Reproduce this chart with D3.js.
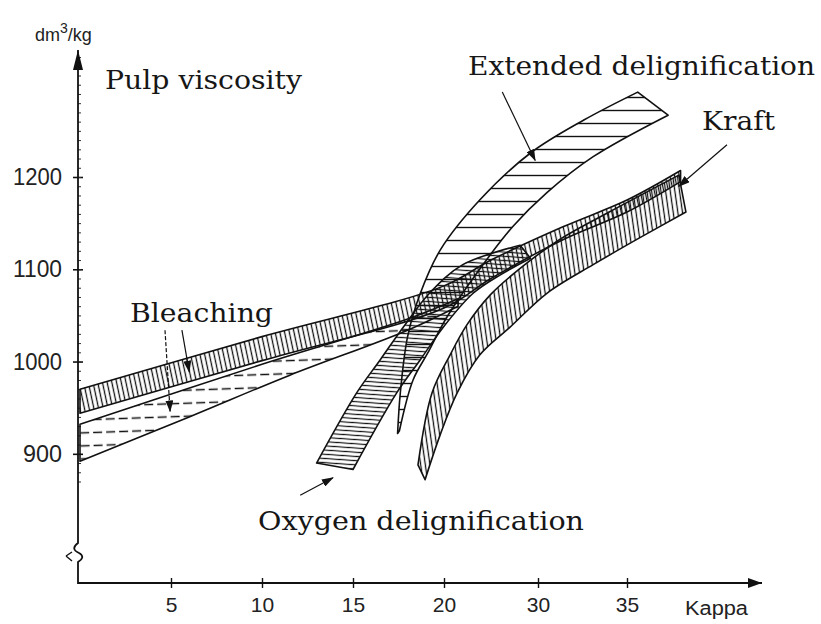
<!DOCTYPE html>
<html>
<head>
<meta charset="utf-8">
<script src="https://cdn.jsdelivr.net/npm/d3@7"></script>
<style>
  body { margin: 0; background: #fff; }
  svg { display: block; }
  .tick text { font-family: 'Liberation Sans', Arial, sans-serif; fill: #222; }
  .label { font-family: 'DejaVu Serif', serif; fill: #161616; }
</style>
</head>
<body>
<svg id="chart" width="821" height="624"></svg>
<script>
const kappaTicks = [5, 10, 15, 20, 30, 35];
const viscosityTicks = [900, 1000, 1100, 1200];

// band edges, [kappa, viscosity dm3/kg]
const bleachLowerTop = [[0, 932], [10, 997], [18, 1046], [21.5, 1068]];
const bleachLowerBottom = [[0, 892], [6, 940], [11.5, 985], [18, 1034], [21.5, 1060]];
const bleachUpperTop = [[0, 970], [10, 1027], [20, 1082], [25, 1110], [31.4, 1146], [35, 1175], [38, 1207]];
const bleachUpperBottom = [[0, 944], [10, 1001], [20, 1058], [25, 1090], [31.4, 1132], [35, 1162], [38, 1195]];
const kraftUpper = [[18.57, 888], [19.34, 966], [20.64, 1007], [22.45, 1040], [24.9, 1072], [28.1, 1101], [31.2, 1132], [34.0, 1162], [37.9, 1202]];
const kraftLower = [[18.96, 872], [19.78, 920], [21.4, 966], [23.8, 1007], [27.0, 1037], [30.5, 1074], [33.1, 1105], [35.7, 1134], [38.3, 1162]];
const oxygenUpper = [[13.0, 890], [15.2, 966], [16.5, 1002], [17.75, 1037], [19.2, 1074], [22.0, 1105], [28.1, 1126]];
const oxygenLower = [[15.0, 883], [17.4, 966], [18.7, 1002], [19.95, 1037], [23.1, 1074], [26.0, 1094], [29.2, 1112]];
const extendedUpper = [[17.45, 922], [17.6, 966], [18.0, 1027], [18.7, 1074], [19.8, 1121], [23.8, 1175], [29.2, 1226], [32.6, 1262], [35.6, 1292]];
const extendedLower = [[17.55, 925], [18.3, 980], [19.1, 1009], [20.3, 1048], [23.5, 1096], [27.3, 1146], [30.5, 1183], [33.1, 1222], [37.3, 1267]];

// pointer arrows [tail, head] in data units
const pointers = [
  [[26.2, 1292], [29.7, 1218]],
  [[40.6, 1235], [37.9, 1190]],
  [[12.1, 855], [13.9, 874]],
  [[4.67, 1034], [4.95, 946]],
  [[5.6, 1034], [6.0, 989]]
];

const svg = d3.select('#chart');

const x = d3.scaleLinear().domain([0, 20, 30, 35, 42]).range([80, 444, 538, 627, 752]);
const y = d3.scaleLinear().domain([760, 1200]).range([583, 177]);

const defs = svg.append('defs');

const hatch = (id, step, angle, dir, width, dash) => {
  const p = defs.append('pattern')
    .attr('id', id)
    .attr('patternUnits', 'userSpaceOnUse')
    .attr('width', step)
    .attr('height', step)
    .attr('patternTransform', `rotate(${angle})`);
  p.append('line')
    .attr('x1', dir === 'v' ? step / 2 : 0)
    .attr('x2', dir === 'v' ? step / 2 : step)
    .attr('y1', dir === 'v' ? 0 : step / 2)
    .attr('y2', dir === 'v' ? step : step / 2)
    .attr('stroke', '#111')
    .attr('stroke-width', width)
    .attr('stroke-dasharray', dash || null);
};

hatch('h-bleach-low', 13, -2, 'h', 1.5, '9 4');
hatch('h-bleach-up', 4.6, -12, 'v', 1.3);
hatch('h-kraft', 4.6, -8, 'v', 1.3);
hatch('h-oxygen', 4.2, 4, 'h', 1.2);
hatch('h-extended', 13, 0, 'h', 1.4);

defs.append('marker')
  .attr('id', 'arrow')
  .attr('viewBox', '0 0 12 8')
  .attr('refX', 11)
  .attr('refY', 4)
  .attr('markerWidth', 12)
  .attr('markerHeight', 8)
  .attr('markerUnits', 'userSpaceOnUse')
  .attr('orient', 'auto')
  .append('path')
  .attr('d', 'M0,0L12,4L0,8Z')
  .attr('fill', '#111');

// axes
const yAxis = d3.axisLeft(y)
  .tickValues(viscosityTicks)
  .tickFormat(d3.format('d'))
  .tickSize(5)
  .tickPadding(11);

const gy = svg.append('g')
  .attr('transform', 'translate(78,0)')
  .call(yAxis);
gy.select('.domain').remove();
gy.selectAll('.tick line').attr('x1', -5).attr('x2', 5).attr('stroke', '#111').attr('stroke-width', 1.6);
gy.selectAll('.tick text')
  .attr('font-size', 24)
  .attr('textLength', (d) => d >= 1000 ? 49 : 39)
  .attr('lengthAdjust', 'spacingAndGlyphs');

const gyMinor = svg.append('g')
  .attr('transform', 'translate(78,0)')
  .call(d3.axisLeft(y).tickValues(d3.range(870, 1340, 10)).tickSize(3).tickFormat(''));
gyMinor.select('.domain').remove();
gyMinor.selectAll('.tick line').attr('x2', 3).attr('stroke', '#333').attr('stroke-width', 1);

const xAxis = d3.axisBottom(x)
  .tickValues(kappaTicks)
  .tickSize(5)
  .tickPadding(9);

const gx = svg.append('g')
  .attr('transform', 'translate(0,583)')
  .call(xAxis);
gx.select('.domain').remove();
gx.selectAll('.tick line').attr('y1', -5).attr('y2', 5).attr('stroke', '#111').attr('stroke-width', 1.4);
gx.selectAll('.tick text').attr('font-size', 21);

svg.append('path')
  .attr('d', 'M78,50L78,543Q70,549 79,553Q86,557 78,562L78,583L762,583')
  .attr('fill', 'none')
  .attr('stroke', '#111')
  .attr('stroke-width', 1.8);

svg.append('path')
  .attr('d', 'M66,556L72,552M66,556L72,561')
  .attr('stroke', '#111')
  .attr('stroke-width', 1.4);

svg.append('path')
  .attr('d', 'M78,50L73,70L83,70Z')
  .attr('fill', '#111');

svg.append('path')
  .attr('d', 'M748,578L762,583L748,588Z')
  .attr('fill', '#111');

// bands
const edge = d3.line()
  .x((d) => x(d[0]))
  .y((d) => y(d[1]))
  .curve(d3.curveCatmullRom.alpha(0.5));

const bandPath = (upper, lower) => edge(upper) + 'L' + edge(lower.slice().reverse()).slice(1) + 'Z';

const bands = [
  { upper: bleachLowerTop, lower: bleachLowerBottom, fill: 'url(#h-bleach-low)' },
  { upper: oxygenUpper, lower: oxygenLower, fill: 'url(#h-oxygen)' },
  { upper: kraftUpper, lower: kraftLower, fill: 'url(#h-kraft)' },
  { upper: bleachUpperTop, lower: bleachUpperBottom, fill: 'url(#h-bleach-up)' },
  { upper: extendedUpper, lower: extendedLower, fill: 'url(#h-extended)' }
];

svg.append('g')
  .selectAll('path')
  .data(bands)
  .enter()
  .append('path')
  .attr('d', (d) => bandPath(d.upper, d.lower))
  .attr('fill', (d) => d.fill)
  .attr('stroke', '#111')
  .attr('stroke-width', 1.6)
  .attr('stroke-linejoin', 'round');

// pointers
svg.append('g')
  .selectAll('line')
  .data(pointers)
  .enter()
  .append('line')
  .attr('x1', (d) => x(d[0][0]))
  .attr('y1', (d) => y(d[0][1]))
  .attr('x2', (d) => x(d[1][0]))
  .attr('y2', (d) => y(d[1][1]))
  .attr('stroke', '#111')
  .attr('stroke-width', 1.2)
  .attr('stroke-dasharray', (d, i) => i === 3 ? '4 2' : null)
  .attr('marker-end', 'url(#arrow)');

// labels
const unit = svg.append('text')
  .attr('x', 35)
  .attr('y', 41)
  .attr('font-family', "'Liberation Sans', Arial, sans-serif")
  .attr('font-size', 18)
  .attr('fill', '#222');
unit.append('tspan').text('dm');
unit.append('tspan').attr('dy', -8).attr('font-size', 14).text('3');
unit.append('tspan').attr('dy', 8).text('/kg');

const labels = [
  { text: 'Pulp viscosity', x: 105, y: 89, w: 197 },
  { text: 'Extended delignification', x: 468, y: 75, w: 347 },
  { text: 'Kraft', x: 702, y: 130, w: 73 },
  { text: 'Bleaching', x: 130, y: 322, w: 143 },
  { text: 'Oxygen delignification', x: 258, y: 530, w: 326 }
];

svg.append('g')
  .selectAll('text')
  .data(labels)
  .enter()
  .append('text')
  .attr('class', 'label')
  .attr('x', (d) => d.x)
  .attr('y', (d) => d.y)
  .attr('font-size', 26)
  .attr('textLength', (d) => d.w)
  .attr('lengthAdjust', 'spacingAndGlyphs')
  .text((d) => d.text);

svg.append('text')
  .attr('x', 685)
  .attr('y', 615)
  .attr('font-family', "'Liberation Sans', Arial, sans-serif")
  .attr('font-size', 20)
  .attr('textLength', 63)
  .attr('lengthAdjust', 'spacingAndGlyphs')
  .attr('fill', '#222')
  .text('Kappa');
</script>
</body>
</html>
